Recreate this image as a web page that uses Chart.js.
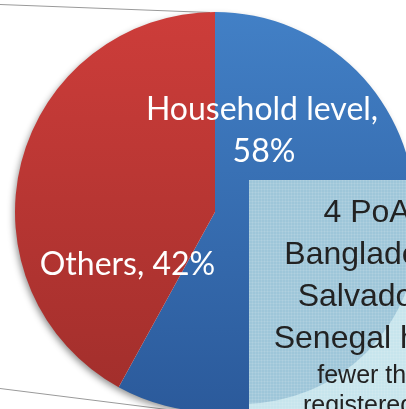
<!DOCTYPE html>
<html>
<head>
<meta charset="utf-8">
<script src="https://cdn.jsdelivr.net/npm/chart.js@4.4.0/dist/chart.umd.min.js"></script>
<style>
    html, body { margin: 0; padding: 0; background: #ffffff; overflow: hidden; }
    #wrap { position: absolute; left: 0; top: 0; width: 430px; height: 424px; }
</style>
</head>
<body>
<div id="wrap"><canvas id="shareChart" width="430" height="424"></canvas></div>
<script>
// Data pie
const categories = ['Household level', 'Others'];
const shares = [58, 42];

// Teks kotak catatan
const noteLines = ['4 PoAs in', 'Bangladesh, El', 'Salvador and', 'Senegal have all'];
const noteSmallLines = ['fewer than 10', 'registered CPAs'];

function sliceGradient(ctx, top, bottom, c1, c2) {
    const g = ctx.createLinearGradient(0, top, 0, bottom);
    g.addColorStop(0, c1);
    g.addColorStop(1, c2);
    return g;
}

// Garis tepi slide & bayangan pie
const backdropPlugin = {
    id: 'backdrop',
    beforeDatasetsDraw(chart) {
        const ctx = chart.ctx;
        const arc = chart.getDatasetMeta(0).data[0];
        ctx.save();
        ctx.strokeStyle = '#9a9a9a';
        ctx.lineWidth = 1;
        ctx.beginPath();
        ctx.moveTo(0, 4.5);
        ctx.lineTo(210, 12.5);
        ctx.moveTo(0, 388.5);
        ctx.lineTo(175, 410.5);
        ctx.stroke();

        ctx.shadowColor = 'rgba(0, 0, 0, 0.45)';
        ctx.shadowBlur = 7;
        ctx.shadowOffsetX = -2;
        ctx.shadowOffsetY = 3;
        ctx.fillStyle = '#ffffff';
        ctx.beginPath();
        ctx.arc(arc.x, arc.y, arc.outerRadius - 1, 0, Math.PI * 2);
        ctx.fill();
        ctx.restore();
    }
};

// Label di dalam slice
const sliceLabelPlugin = {
    id: 'sliceLabels',
    afterDatasetsDraw(chart) {
        const ctx = chart.ctx;
        const arc = chart.getDatasetMeta(0).data[0];
        const r = arc.outerRadius;
        ctx.save();
        ctx.fillStyle = '#ffffff';
        ctx.font = '32px Lato';
        ctx.textAlign = 'center';
        ctx.textBaseline = 'alphabetic';
        ctx.fillText(categories[0] + ',', arc.x + 0.235 * r, arc.y - 0.46 * r);
        ctx.fillText(shares[0] + '%', arc.x + 0.245 * r, arc.y - 0.25 * r);
        ctx.fillText(categories[1] + ', ' + shares[1] + '%', arc.x - 0.4375 * r, arc.y + 0.315 * r);
        ctx.restore();
    }
};

// Kotak catatan di kanan bawah
const notePlugin = {
    id: 'noteBox',
    afterDraw(chart) {
        const ctx = chart.ctx;
        const left = 249, top = 180, right = 460, bottom = 460;
        ctx.save();
        ctx.beginPath();
        ctx.rect(left, top, right - left, bottom - top);
        ctx.clip();
        ctx.fillStyle = '#c7e5ed';
        ctx.fillRect(left, top, right - left, bottom - top);
        ctx.fillStyle = '#9ec6d9';
        ctx.beginPath();
        ctx.arc(242, 228, 176, 0, Math.PI * 2);
        ctx.fill();

        // tekstur halus
        ctx.fillStyle = 'rgba(255, 255, 255, 0.1)';
        for (let x = left; x < right; x += 3) {
            ctx.fillRect(x, top, 1, bottom - top);
        }
        for (let y = top; y < bottom; y += 3) {
            ctx.fillRect(left, y, right - left, 1);
        }

        const cx = 392;
        ctx.fillStyle = '#222222';
        ctx.textAlign = 'center';
        ctx.font = '32px "Liberation Sans", Arial';
        noteLines.forEach((line, i) => {
            ctx.fillText(line, cx, 222 + i * 42);
        });
        ctx.font = '25px "Liberation Sans", Arial';
        noteSmallLines.forEach((line, i) => {
            ctx.fillText(line, cx + 1, 383 + i * 30);
        });
        ctx.restore();
    }
};

function createShareChart() {
    const ctx = document.getElementById('shareChart').getContext('2d');
    const blue = sliceGradient(ctx, 12, 412, '#4280c6', '#2b5a9b');
    const red = sliceGradient(ctx, 12, 412, '#cd3d3a', '#a02e2b');

    return new Chart(ctx, {
        type: 'pie',
        data: {
            labels: categories,
            datasets: [{
                data: shares,
                backgroundColor: [blue, red],
                borderWidth: 0
            }]
        },
        options: {
            responsive: false,
            animation: false,
            layout: {
                padding: { left: 15, top: 12, right: 15, bottom: 12 }
            },
            plugins: {
                legend: { display: false },
                tooltip: { enabled: false }
            }
        },
        plugins: [backdropPlugin, sliceLabelPlugin, notePlugin]
    });
}

document.addEventListener('DOMContentLoaded', function() {
    createShareChart();
});
</script>
</body>
</html>
